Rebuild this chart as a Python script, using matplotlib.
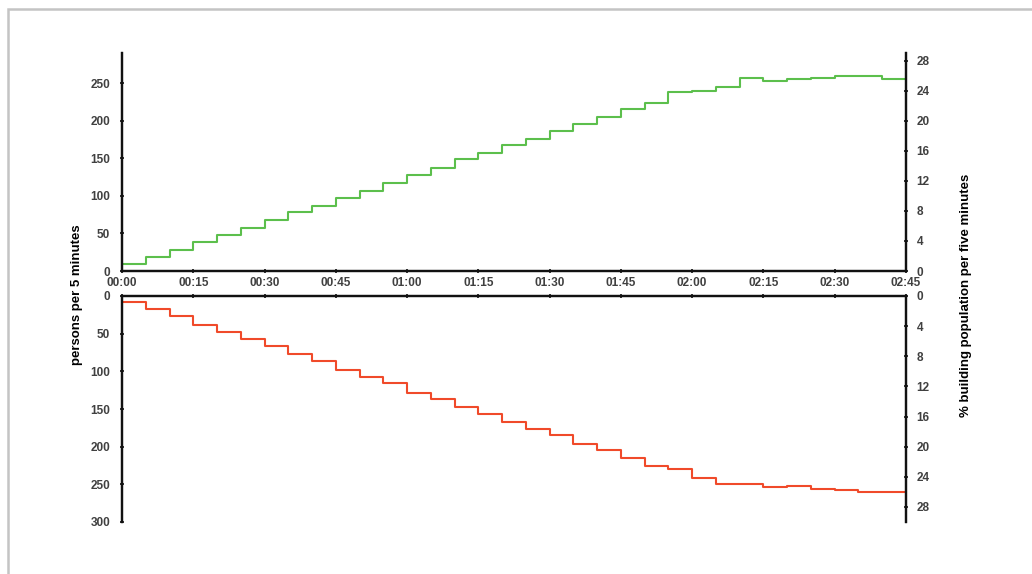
"""Building evacuation flow: arrivals (top) vs departures (bottom)."""

import matplotlib.pyplot as plt
from matplotlib.patches import Rectangle

plt.rcParams["font.family"] = ["Liberation Sans", "DejaVu Sans"]

# 5-minute intervals, start minute of each bin
interval_start = list(range(0, 165, 5))
time_labels = ["00:00", "00:15", "00:30", "00:45", "01:00", "01:15",
               "01:30", "01:45", "02:00", "02:15", "02:30", "02:45"]

# persons per 5 minutes
green_persons = [9, 18, 28, 38.5, 48, 57.6, 67.4, 78, 87, 97, 107, 116.6,
                 128, 137, 148.5, 156.5, 167, 176, 186, 196, 205, 215, 224,
                 238, 240, 245, 257, 253, 255, 257, 259, 259, 255]
red_persons = [8, 17, 26, 38, 48, 57, 66.5, 77, 86, 98, 108, 116, 128.5,
               137, 148, 157, 167, 176, 184, 197, 205, 214.5, 226, 230, 241,
               249, 250, 254, 252, 256, 258, 260, 260]

left_ticks = [0, 50, 100, 150, 200, 250]
left_ticks_bottom = [0, 50, 100, 150, 200, 250, 300]
pct_ticks = [0, 4, 8, 12, 16, 20, 24, 28]

GREEN = "#5cbf4c"
RED = "#f04a2a"
TICK_COLOR = "#404040"

fig = plt.figure(figsize=(10.32, 5.74), dpi=100)

# screenshot frame
fig.patches.append(Rectangle((8 / 1032, -0.1), 1.2, (574 - 9) / 574 + 0.1,
                             transform=fig.transFigure, fill=False,
                             edgecolor="#c4c4c4", linewidth=1.8))

ax_top = fig.add_axes([122 / 1032, (574 - 271) / 574, 784 / 1032, 218 / 574])
ax_bot = fig.add_axes([122 / 1032, (574 - 522) / 574, 784 / 1032, 226 / 574])

x_edges = interval_start + [165]


def style(ax, keep):
    for side in ("top", "bottom", "left", "right"):
        ax.spines[side].set_visible(side in keep)
        ax.spines[side].set_linewidth(1.6)
        ax.spines[side].set_color("#111111")
    ax.tick_params(axis="both", direction="inout", length=3, width=1.2,
                   labelsize=8.5, labelcolor=TICK_COLOR, color="#111111")
    for lbl in ax.get_xticklabels() + ax.get_yticklabels():
        lbl.set_fontweight("bold")


# top panel
ax_top.step(x_edges, green_persons + [green_persons[-1]], where="post",
            color=GREEN, linewidth=1.5)
ax_top.set_xlim(0, 165)
ax_top.set_ylim(0, 290)
ax_top.set_yticks(left_ticks)
ax_top.set_xticks(range(0, 166, 15))
ax_top.set_xticklabels(time_labels)
ax_top.tick_params(axis="y", pad=7)
ax_top.tick_params(axis="x", pad=3)
style(ax_top, ("bottom", "left", "right"))

ax_top_r = ax_top.twinx()
ax_top_r.set_ylim(0, 29)
ax_top_r.set_yticks(pct_ticks)
style(ax_top_r, ("bottom", "left", "right"))
ax_top_r.tick_params(axis="y", pad=6)

# bottom panel
ax_bot.step(x_edges, red_persons + [red_persons[-1]], where="post",
            color=RED, linewidth=1.5)
ax_bot.set_xlim(0, 165)
ax_bot.set_ylim(300, 0)
ax_bot.set_yticks(left_ticks_bottom)
ax_bot.set_xticks(range(0, 166, 15))
ax_bot.xaxis.set_ticks_position("top")
ax_bot.set_xticklabels([])
ax_bot.tick_params(axis="y", pad=7)
style(ax_bot, ("top", "left", "right"))

ax_bot_r = ax_bot.twinx()
ax_bot_r.set_ylim(30, 0)
ax_bot_r.set_yticks(pct_ticks)
style(ax_bot_r, ("top", "left", "right"))
ax_bot_r.tick_params(axis="y", pad=6)

fig.text(77 / 1032, 1 - 295 / 574, "persons per 5 minutes", rotation=90,
         ha="center", va="center", fontsize=9.5, fontweight="bold")
fig.text(966 / 1032, 1 - 295 / 574, "% building population per five minutes",
         rotation=90, ha="center", va="center", fontsize=9.5, fontweight="bold")

fig.savefig("out.png", dpi=100)
